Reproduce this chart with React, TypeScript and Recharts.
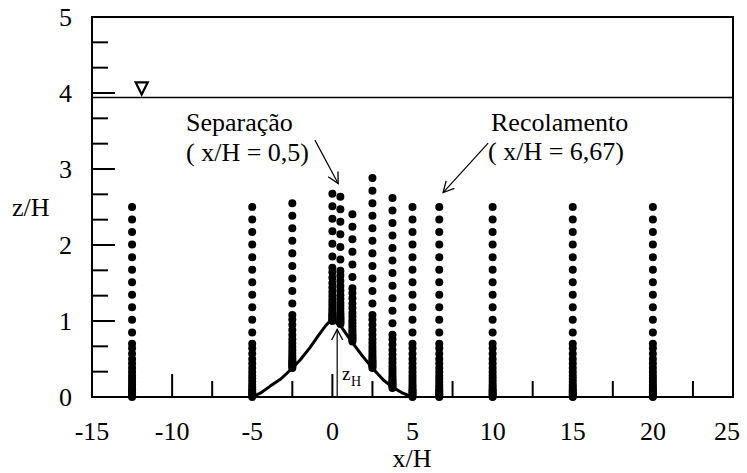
import { ScatterChart, Scatter, XAxis, YAxis, ReferenceLine, ReferenceDot, Customized } from 'recharts'

const FONT = "'Liberation Serif', 'DejaVu Serif', 'Noto Serif', serif"

// measuring stations x/H and bed height / top probe height at each one
const stations = [-12.5, -5, -2.5, 0, 0.5, 1.25, 2.5, 3.75, 5, 6.67, 10, 15, 20]
const bedZ = [0, 0, 0.38, 1.0, 0.96, 0.73, 0.38, 0.12, 0, 0, 0, 0, 0]
const topZ = [2.5, 2.51, 2.55, 2.68, 2.64, 2.43, 2.88, 2.64, 2.5, 2.5, 2.5, 2.5, 2.5]
// probe heights above the local bed (dense near the wall, then every ~0.165)
const levels = [
  0, 0.02, 0.04, 0.06, 0.08, 0.1, 0.13, 0.16, 0.2, 0.24, 0.28, 0.33, 0.38, 0.44, 0.5, 0.57, 0.64, 0.7,
  0.85, 1.015, 1.18, 1.345, 1.51, 1.675, 1.84, 2.005, 2.17, 2.335, 2.5,
]

// hill profile
const hillX = [-5, -4.5, -3.9, -3.2, -2.5, -2, -1.4, -0.9, -0.45, -0.15, 0.1, 0.47, 1.2, 1.8, 2.5, 3.2, 3.75, 4.4, 5]
const hillZ = [0, 0.05, 0.14, 0.24, 0.38, 0.49, 0.65, 0.8, 0.93, 1.0, 0.99, 0.95, 0.73, 0.56, 0.38, 0.22, 0.13, 0.05, 0]

const xTicks = [-15, -12.5, -10, -7.5, -5, -2.5, 0, 2.5, 5, 7.5, 10, 12.5, 15, 17.5, 20, 22.5, 25]
const yTicks = [
  0, 0.3333, 0.6667, 1, 1.3333, 1.6667, 2, 2.3333, 2.6667, 3, 3.3333, 3.6667, 4, 4.3333, 4.6667, 5,
]

const waterLevel = 3.94
const waterMark = { x: -11.9, z: 4.06 }
const sepArrow = { from: { x: -1.09, z: 3.38 }, to: { x: 0.36, z: 2.81 } }
const recArrow = { from: { x: 9.72, z: 3.34 }, to: { x: 6.91, z: 2.69 } }
const zhArrow = { x: 0.3, from: 0, to: 0.89 }

const probes = stations.flatMap((x, i) =>
  levels
    .filter(h => bedZ[i] + h <= topZ[i] + 0.02)
    .map(h => ({ x, z: Math.round((bedZ[i] + h) * 1000) / 1000 }))
)
const hill = hillX.map((x, i) => ({ x, z: hillZ[i] }))

const isMajorX = (v: number) => v % 5 === 0
const isMajorY = (v: number) => Number.isInteger(v)

const txt = { fontFamily: FONT, fill: '#000' }

const BottomTick = (props: any) => {
  const { x, y, payload } = props
  const major = isMajorX(payload.value)
  return (
    <g>
      <line x1={x} y1={y} x2={x} y2={y - (major ? 23 : 16)} stroke="#000" strokeWidth={2} />
      {major && (
        <text x={payload.value === 25 ? x - 6 : x} y={y + 43} textAnchor="middle" fontSize={26} style={txt}>
          {payload.value}
        </text>
      )}
    </g>
  )
}

const TopTick = (props: any) => {
  const { x, y, payload } = props
  const major = isMajorX(payload.value)
  return <line x1={x} y1={y} x2={x} y2={y + (major ? 23 : 16)} stroke="#000" strokeWidth={2} />
}

const LeftTick = (props: any) => {
  const { x, y, payload } = props
  const major = isMajorY(payload.value)
  return (
    <g>
      <line x1={x} y1={y} x2={x + (major ? 23 : 16)} y2={y} stroke="#000" strokeWidth={2} />
      {major && (
        <text x={x - 20} y={y + 9} textAnchor="end" fontSize={26} style={txt}>
          {payload.value}
        </text>
      )}
    </g>
  )
}

const RightTick = (props: any) => {
  const { x, y, payload } = props
  const major = isMajorY(payload.value)
  return <line x1={x} y1={y} x2={x - (major ? 23 : 16)} y2={y} stroke="#000" strokeWidth={2} />
}

const Dot = (p: any) => <circle cx={p.cx} cy={p.cy} r={4} fill="#000" />

const arrowHead = (angle: number) => (p: any) => {
  const a = (angle * Math.PI) / 180
  const s = 0.48
  const L = 12
  const x1 = p.cx - L * Math.cos(a - s)
  const y1 = p.cy - L * Math.sin(a - s)
  const x2 = p.cx - L * Math.cos(a + s)
  const y2 = p.cy - L * Math.sin(a + s)
  return <polyline points={`${x1},${y1} ${p.cx},${p.cy} ${x2},${y2}`} fill="none" stroke="#000" strokeWidth={1.3} />
}

const Triangle = (p: any) => (
  <polygon
    points={`${p.cx - 6},${p.cy - 6} ${p.cx + 6},${p.cy - 6} ${p.cx},${p.cy + 6}`}
    fill="#fff"
    stroke="#000"
    strokeWidth={2.2}
    strokeLinejoin="miter"
  />
)

const Notes = () => (
  <g style={txt}>
    <text x={12} y={216} fontSize={26} style={txt}>z/H</text>
    <text x={412} y={467} fontSize={26} textAnchor="middle" style={txt}>x/H</text>
    <text x={186} y={131} fontSize={26} style={txt}>Separação</text>
    <text x={186} y={161} fontSize={26} style={txt}>( x/H = 0,5)</text>
    <text x={491} y={131} fontSize={26} style={txt}>Recolamento</text>
    <text x={488} y={160} fontSize={26} style={txt}>( x/H = 6,67)</text>
    <text x={342} y={380} fontSize={19} style={txt}>z</text>
    <text x={351} y={386} fontSize={14} style={txt}>H</text>
  </g>
)

const axisLine = { stroke: '#000', strokeWidth: 2, strokeLinecap: 'square' as const }

export default function App() {
  return (
    <div style={{ position: 'absolute', left: 0, top: 0, background: '#fff', fontFamily: FONT }}>
      <ScatterChart width={747} height={473} margin={{ top: 0, right: 0, bottom: 0, left: 0 }}>
        <XAxis
          dataKey="x"
          type="number"
          domain={[-15, 25]}
          ticks={xTicks}
          interval={0}
          height={76}
          tickSize={0}
          tickMargin={0}
          tickLine={false}
          axisLine={axisLine}
          tick={<BottomTick />}
        />
        <XAxis
          xAxisId="top"
          orientation="top"
          dataKey="x"
          type="number"
          domain={[-15, 25]}
          ticks={xTicks}
          interval={0}
          height={17}
          tickSize={0}
          tickMargin={0}
          tickLine={false}
          axisLine={axisLine}
          tick={<TopTick />}
        />
        <YAxis
          dataKey="z"
          type="number"
          domain={[0, 5]}
          ticks={yTicks}
          interval={0}
          width={92}
          tickSize={0}
          tickMargin={0}
          tickLine={false}
          axisLine={axisLine}
          tick={<LeftTick />}
        />
        <YAxis
          yAxisId="right"
          orientation="right"
          dataKey="z"
          type="number"
          domain={[0, 5]}
          ticks={yTicks}
          interval={0}
          width={14}
          tickSize={0}
          tickMargin={0}
          tickLine={false}
          axisLine={axisLine}
          tick={<RightTick />}
        />
        <ReferenceLine y={waterLevel} stroke="#000" strokeWidth={1.5} />
        <ReferenceDot x={waterMark.x} y={waterMark.z} r={6} shape={Triangle} />
        <Scatter data={probes} shape={Dot} isAnimationActive={false} />
        <Scatter
          data={hill}
          line={{ stroke: '#000', strokeWidth: 3, strokeLinejoin: 'round' }}
          lineType="joint"
          shape={() => <g />}
          isAnimationActive={false}
        />
        <ReferenceLine
          segment={[{ x: zhArrow.x, y: zhArrow.from }, { x: zhArrow.x, y: zhArrow.to }]}
          stroke="#000"
          strokeWidth={1.2}
        />
        <ReferenceDot x={zhArrow.x} y={zhArrow.to} r={1} shape={arrowHead(-90)} />
        <ReferenceLine
          segment={[{ x: sepArrow.from.x, y: sepArrow.from.z }, { x: sepArrow.to.x, y: sepArrow.to.z }]}
          stroke="#000"
          strokeWidth={1.2}
        />
        <ReferenceDot x={sepArrow.to.x} y={sepArrow.to.z} r={1} shape={arrowHead(61.7)} />
        <ReferenceLine
          segment={[{ x: recArrow.from.x, y: recArrow.from.z }, { x: recArrow.to.x, y: recArrow.to.z }]}
          stroke="#000"
          strokeWidth={1.2}
        />
        <ReferenceDot x={recArrow.to.x} y={recArrow.to.z} r={1} shape={arrowHead(132.3)} />
        <Customized component={Notes} />
      </ScatterChart>
    </div>
  )
}
